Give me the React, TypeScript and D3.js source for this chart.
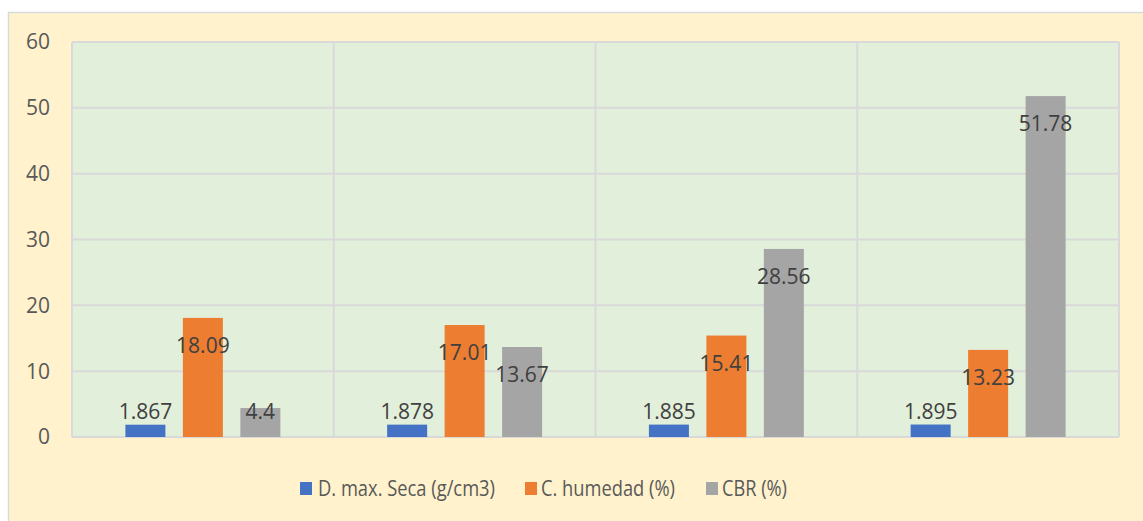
import React from "react";
import * as d3 from "d3";

const categories = ["M1", "M2", "M3", "M4"];
const seriesNames = ["D. max. Seca (g/cm3)", "C. humedad (%)", "CBR (%)"];
const densidad = [1.867, 1.878, 1.885, 1.895];
const humedad = [18.09, 17.01, 15.41, 13.23];
const cbr = [4.4, 13.67, 28.56, 51.78];
const yTicks = [0, 10, 20, 30, 40, 50, 60];
const colors = ["#4472C4", "#ED7D31", "#A5A5A5"];
const labelTexts = [
  ["1.867", "1.878", "1.885", "1.895"],
  ["18.09", "17.01", "15.41", "13.23"],
  ["4.4", "13.67", "28.56", "51.78"],
];

export default function App() {
  const W = 1143, H = 521;
  const plot = { left: 72, right: 1119, top: 42, bottom: 437 };
  const seriesValues = [densidad, humedad, cbr];
  const y = d3.scaleLinear().domain([0, 60]).range([plot.bottom, plot.top]);
  const x0 = d3.scaleBand<string>().domain(categories).range([plot.left, plot.right]).padding(0);
  const bw = x0.bandwidth();
  const outer = bw * 0.204;
  const x1 = d3.scaleBand<string>().domain(seriesNames).range([outer, bw - outer]).paddingInner(0.304).paddingOuter(0);
  const font = "'Open Sans', sans-serif";
  const gridColor = "#D9D9D9";

  const legendItems = [
    { x: 300, tx: 318, len: 177 },
    { x: 525, tx: 541, len: 134 },
    { x: 706, tx: 722, len: 65 },
  ];

  return (
    <svg width={W} height={H} style={{ position: "absolute", left: 0, top: 0 }}>
      <rect x={0} y={0} width={W} height={H} fill="#FFFFFF" />
      <rect x={8.5} y={12.5} width={W + 10} height={H + 10} fill="#FFF2CC" stroke={gridColor} strokeWidth={1.5} />
      <rect x={plot.left} y={plot.top} width={plot.right - plot.left} height={plot.bottom - plot.top} fill="#E2EFDA" />
      {yTicks.map((t) => (
        <line key={"g" + t} x1={plot.left} x2={plot.right} y1={y(t)} y2={y(t)} stroke={gridColor} strokeWidth={2} />
      ))}
      {categories.map((c) => (
        <line key={"v" + c} x1={x0(c)!} x2={x0(c)!} y1={plot.top} y2={plot.bottom} stroke={gridColor} strokeWidth={2} />
      ))}
      <line x1={plot.right} x2={plot.right} y1={plot.top} y2={plot.bottom} stroke={gridColor} strokeWidth={2} />
      {yTicks.map((t) => (
        <text key={"t" + t} x={50} y={y(t)} dy="0.35em" textAnchor="end" fontFamily={font} fontSize={21} fill="#595959">
          {t}
        </text>
      ))}
      {seriesNames.map((s, si) =>
        categories.map((c, ci) => {
          const v = seriesValues[si][ci];
          const bx = x0(c)! + x1(s)!;
          return (
            <rect key={s + c} x={bx} y={y(v)} width={x1.bandwidth()} height={y(0) - y(v)} fill={colors[si]} />
          );
        })
      )}
      {seriesNames.map((s, si) =>
        categories.map((c, ci) => {
          const v = seriesValues[si][ci];
          const cx = x0(c)! + x1(s)! + x1.bandwidth() / 2;
          const ly = Math.min(y(v) + 28, 412);
          return (
            <text key={"l" + s + c} x={cx} y={ly} dy="0.35em" textAnchor="middle" fontFamily={font} fontSize={21} fill="#404040">
              {labelTexts[si][ci]}
            </text>
          );
        })
      )}
      {seriesNames.map((s, si) => (
        <g key={"lg" + s}>
          <rect x={legendItems[si].x} y={482} width={12} height={13} fill={colors[si]} />
          <text x={legendItems[si].tx} y={489} dy="0.35em" fontFamily={font} fontSize={21} fill="#595959"
            textLength={legendItems[si].len} lengthAdjust="spacingAndGlyphs">
            {s}
          </text>
        </g>
      ))}
    </svg>
  );
}
